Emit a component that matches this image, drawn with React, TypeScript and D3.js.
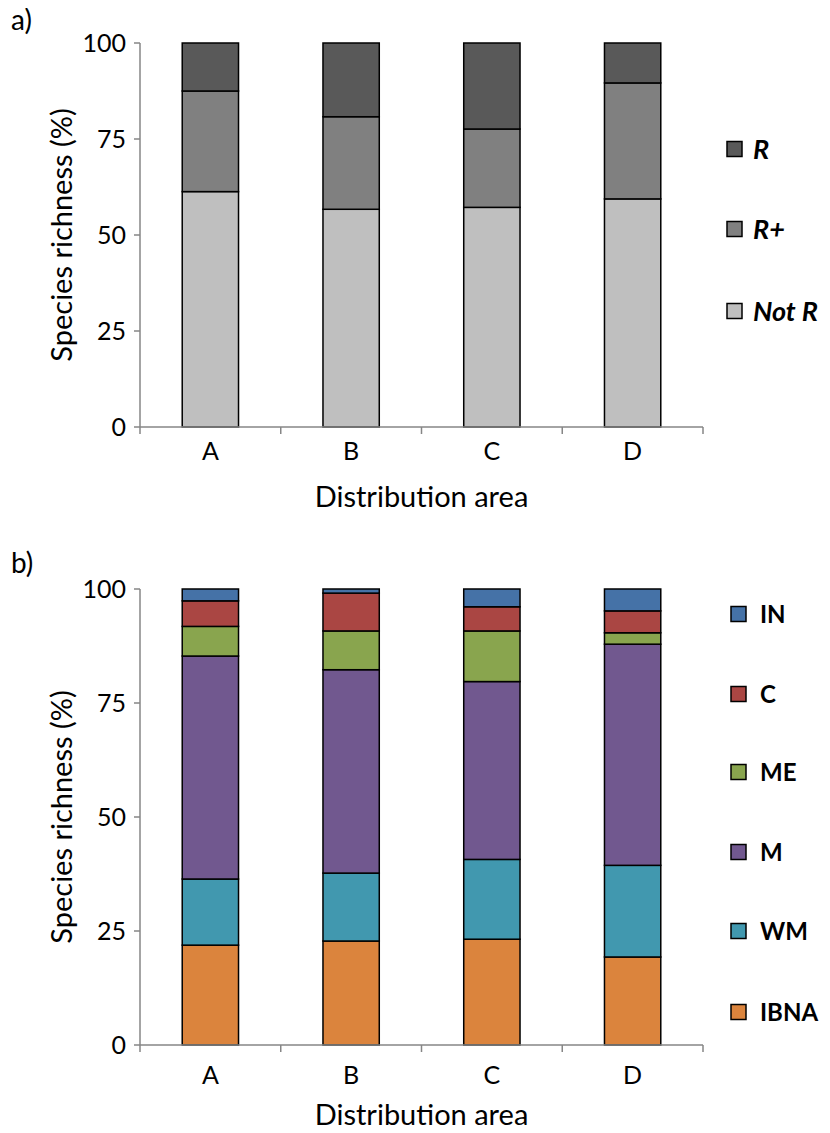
import React from "react";
import * as d3 from "d3";

// Distribution areas shared by both panels
const areas = ["A", "B", "C", "D"];

// Panel a: rarity classes (% of species richness)
const notR = [61.3, 56.7, 57.2, 59.4];
const rPlus = [26.2, 24.1, 20.4, 30.2];
const rOnly = [12.5, 19.2, 22.4, 10.4];

// Panel b: chorological groups (% of species richness)
const ibna = [21.9, 22.8, 23.2, 19.3];
const wm = [14.5, 14.9, 17.5, 20.1];
const med = [48.9, 44.6, 39.0, 48.5];
const me = [6.5, 8.5, 11.1, 2.5];
const cos = [5.6, 8.3, 5.3, 4.8];
const intro = [2.6, 0.9, 3.9, 4.8];

const yTicks = [0, 25, 50, 75, 100];

type Series = { key: string; values: number[]; color: string; italic?: boolean };

const seriesA: Series[] = [
  { key: "Not R", values: notR, color: "#bfbfbf", italic: true },
  { key: "R+", values: rPlus, color: "#808080", italic: true },
  { key: "R", values: rOnly, color: "#595959", italic: true },
];

const seriesB: Series[] = [
  { key: "IBNA", values: ibna, color: "#db843d" },
  { key: "WM", values: wm, color: "#4198af" },
  { key: "M", values: med, color: "#71588f" },
  { key: "ME", values: me, color: "#89a54e" },
  { key: "C", values: cos, color: "#aa4643" },
  { key: "IN", values: intro, color: "#4572a7" },
];

const FONT = "Lato, 'Open Sans', sans-serif";
const AXIS = "#868686";

type PanelProps = {
  label: string;
  labelBaseline: number;
  series: Series[];
  top: number;
  bottom: number;
  catBaseline: number;
  titleBaseline: number;
  legendX: number;
  legendSquareX: number;
  legendYs: number[];
  legendFont: number;
};

function Panel({
  label,
  labelBaseline,
  series,
  top,
  bottom,
  catBaseline,
  titleBaseline,
  legendX,
  legendSquareX,
  legendYs,
  legendFont,
}: PanelProps) {
  const left = 140;
  const right = 703;
  const x = d3.scaleBand<string>().domain(areas).range([left, right]).padding(0);
  const y = d3.scaleLinear().domain([0, 100]).range([bottom, top]);
  const bw = x.bandwidth() * 0.4;

  const rows = areas.map((a, i) => {
    const r: Record<string, number | string> = { area: a };
    series.forEach((s) => (r[s.key] = s.values[i]));
    return r;
  });
  const stacked = d3.stack<Record<string, number | string>>().keys(series.map((s) => s.key))(rows as any);

  const boundaries = [...areas.map((a) => x(a) as number), right];

  return (
    <g>
      <text x={11} y={labelBaseline} fontFamily={FONT} fontSize={28} fill="#000">
        {label}
      </text>
      {/* y axis */}
      <line x1={left} x2={left} y1={top} y2={bottom} stroke={AXIS} strokeWidth={1.5} />
      {yTicks.map((t) => (
        <g key={t}>
          <line x1={left - 6} x2={left} y1={y(t)} y2={y(t)} stroke={AXIS} strokeWidth={1.5} />
          <text
            x={left - 14}
            y={y(t)}
            dy="0.36em"
            textAnchor="end"
            fontFamily={FONT}
            fontSize={25}
            fill="#000"
          >
            {t}
          </text>
        </g>
      ))}
      <text
        transform={`translate(${72},${(top + bottom) / 2}) rotate(-90)`}
        textAnchor="middle"
        fontFamily={FONT}
        fontSize={29}
        fill="#000"
      >
        Species richness (%)
      </text>
      {/* bars */}
      {stacked.map((layer, li) => (
        <g key={layer.key}>
          {layer.map((d, i) => (
            <rect
              key={i}
              x={(x(areas[i]) as number) + x.bandwidth() * 0.3}
              y={y(d[1])}
              width={bw}
              height={y(d[0]) - y(d[1])}
              fill={series[li].color}
              stroke="#000"
              strokeWidth={1.5}
            />
          ))}
        </g>
      ))}
      {/* x axis */}
      <line x1={left} x2={right} y1={bottom} y2={bottom} stroke={AXIS} strokeWidth={1.5} />
      {boundaries.map((bx, i) => (
        <line key={i} x1={bx} x2={bx} y1={bottom} y2={bottom + 7} stroke={AXIS} strokeWidth={1.5} />
      ))}
      {areas.map((a) => (
        <text
          key={a}
          x={(x(a) as number) + x.bandwidth() / 2}
          y={catBaseline}
          textAnchor="middle"
          fontFamily={FONT}
          fontSize={25}
          fill="#000"
        >
          {a}
        </text>
      ))}
      <text
        x={(left + right) / 2}
        y={titleBaseline}
        textAnchor="middle"
        fontFamily={FONT}
        fontSize={29}
        fill="#000"
      >
        Distribution area
      </text>
      {/* legend, top entry = last stacked series */}
      {[...series].reverse().map((s, i) => (
        <g key={s.key}>
          <rect
            x={legendSquareX}
            y={legendYs[i] - 7.5}
            width={15}
            height={15}
            fill={s.color}
            stroke="#000"
            strokeWidth={1.5}
          />
          <text
            x={legendX}
            y={legendYs[i]}
            dy="0.36em"
            fontFamily={FONT}
            fontSize={legendFont}
            fontWeight="bold"
            fontStyle={s.italic ? "italic" : "normal"}
            fill="#000"
          >
            {s.key}
          </text>
        </g>
      ))}
    </g>
  );
}

export default function App() {
  return (
    <svg width={830} height={1133} style={{ display: "block", margin: "-8px" }}>
      <rect width={830} height={1133} fill="#fff" />
      <Panel
        label="a)"
        labelBaseline={30}
        series={seriesA}
        top={43}
        bottom={427}
        catBaseline={460}
        titleBaseline={507}
        legendSquareX={727}
        legendX={753}
        legendYs={[149, 229, 311]}
        legendFont={27}
      />
      <Panel
        label="b)"
        labelBaseline={573}
        series={seriesB}
        top={589}
        bottom={1045}
        catBaseline={1084}
        titleBaseline={1125}
        legendSquareX={731}
        legendX={760}
        legendYs={[614, 694, 772, 852, 931, 1012]}
        legendFont={24}
      />
    </svg>
  );
}
